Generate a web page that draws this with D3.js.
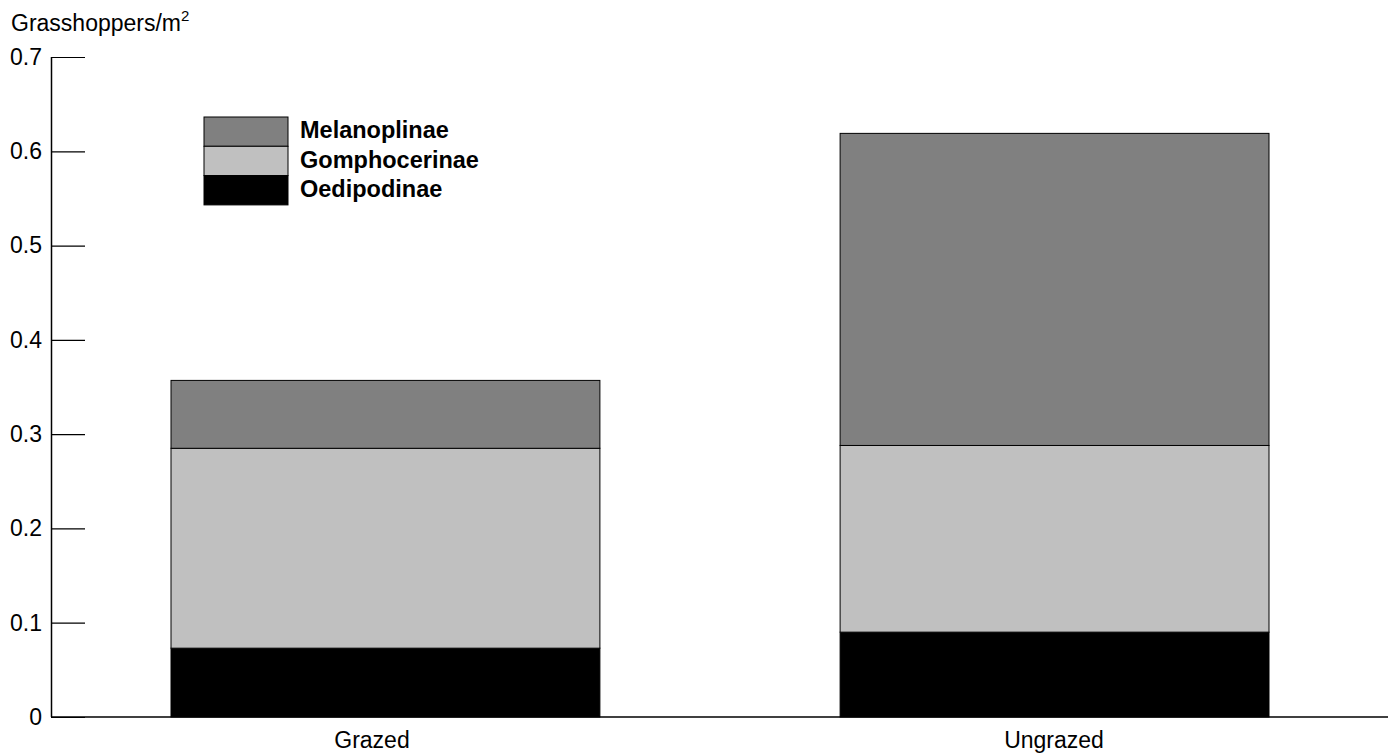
<!DOCTYPE html>
<html>
<head>
<meta charset="utf-8">
<script src="https://cdn.jsdelivr.net/npm/d3@7"></script>
<style>
body { margin: 0; background: #fff; }
svg { font-family: "Liberation Sans", Arial, sans-serif; }
</style>
</head>
<body>
<div id="chart"></div>
<script>
// data
const sites = ["Grazed", "Ungrazed"];
const subfamilies = ["Oedipodinae", "Gomphocerinae", "Melanoplinae"];
const oedipodinae = [0.073, 0.090];
const gomphocerinae = [0.212, 0.198];
const melanoplinae = [0.072, 0.331];
const yTicks = [0, 0.1, 0.2, 0.3, 0.4, 0.5, 0.6, 0.7];
const colors = ["#000000", "#c0c0c0", "#808080"];

const w = 1396, h = 756;
const svg = d3.select("#chart").append("svg")
  .attr("width", w).attr("height", h);

const rows = sites.map((s, i) => ({
  site: s,
  Oedipodinae: oedipodinae[i],
  Gomphocerinae: gomphocerinae[i],
  Melanoplinae: melanoplinae[i]
}));

const stack = d3.stack().keys(subfamilies)(rows);

// bars at 171-600 and 840-1269
const x = d3.scaleBand().domain(sites).range([171, 1269]).paddingInner(0.359).paddingOuter(0);
// label centres
const xl = d3.scalePoint().domain(sites).range([372, 1054]);
const y = d3.scaleLinear().domain([0, 0.7]).range([717, 57]);

// bars
svg.append("g").selectAll("g")
  .data(stack)
  .enter().append("g")
  .attr("fill", (d, i) => colors[i])
  .selectAll("rect")
  .data(d => d)
  .enter().append("rect")
  .attr("x", d => x(d.data.site))
  .attr("width", x.bandwidth())
  .attr("y", d => y(d[1]))
  .attr("height", d => y(d[0]) - y(d[1]))
  .attr("stroke", "#000")
  .attr("stroke-width", 1);

// y axis, ticks inside
const yAxis = d3.axisRight(y).tickValues(yTicks).tickSize(34).tickFormat(d3.format(""));
const gy = svg.append("g").attr("transform", "translate(51,0)").call(yAxis);
gy.select(".domain").attr("d", "M0.5," + y(0.7) + "V" + y(0))
  .attr("stroke", "#000").attr("stroke-width", 1.5);
gy.selectAll(".tick line").attr("stroke", "#000").attr("stroke-width", 1.2);
gy.selectAll(".tick text")
  .attr("x", -9).attr("text-anchor", "end")
  .attr("font-size", 23).attr("fill", "#000")
  .attr("font-family", "Liberation Sans, Arial, sans-serif");

// x axis line
svg.append("line")
  .attr("x1", 51).attr("x2", 1388)
  .attr("y1", y(0)).attr("y2", y(0))
  .attr("stroke", "#000").attr("stroke-width", 1.5);

// x labels
svg.append("g").selectAll("text")
  .data(sites)
  .enter().append("text")
  .attr("x", d => xl(d))
  .attr("y", 748)
  .attr("text-anchor", "middle")
  .attr("font-size", 23)
  .text(d => d);

// y title
const title = svg.append("text").attr("x", 11).attr("y", 31).attr("font-size", 23);
title.append("tspan").text("Grasshoppers/m");
title.append("tspan").attr("dy", -10).attr("font-size", 15).text("2");

// legend (top to bottom: Melanoplinae, Gomphocerinae, Oedipodinae)
const legendKeys = subfamilies.slice().reverse();
const legendCols = colors.slice().reverse();
const leg = svg.append("g");
legendKeys.forEach((k, i) => {
  leg.append("rect")
    .attr("x", 204).attr("y", 117 + i * 29.3)
    .attr("width", 84).attr("height", 29.3)
    .attr("fill", legendCols[i])
    .attr("stroke", "#000").attr("stroke-width", 1);
  leg.append("text")
    .attr("x", 300).attr("y", 138 + i * 29.7)
    .attr("font-size", 23.5).attr("font-weight", "bold")
    .text(k);
});
</script>
</body>
</html>
